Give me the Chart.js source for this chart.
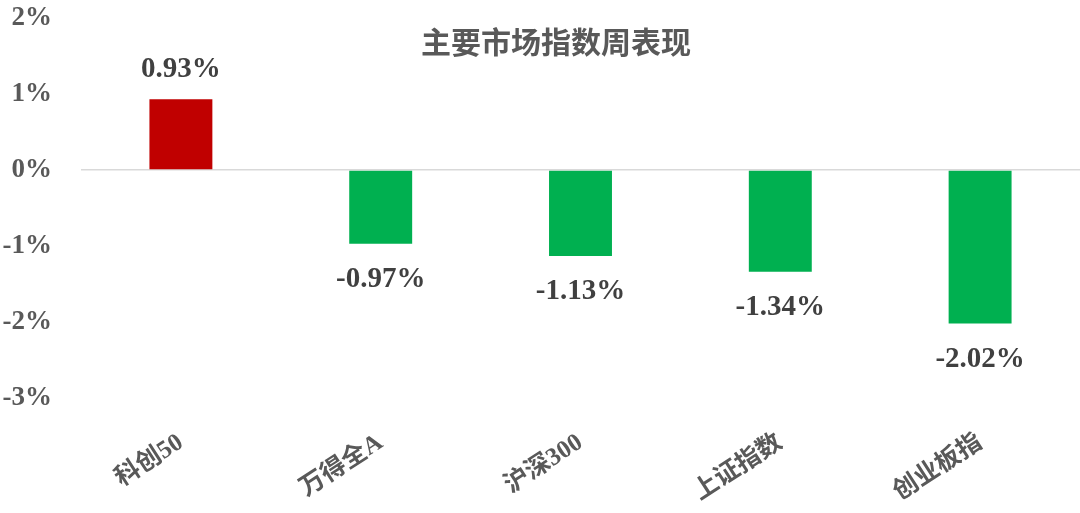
<!DOCTYPE html>
<html>
<head>
<meta charset="utf-8">
<script src="https://cdn.jsdelivr.net/npm/chart.js@4/dist/chart.umd.min.js"></script>
<style>
  html, body { margin: 0; padding: 0; background: #fff; }
  #box { width: 1080px; height: 513px; }
</style>
</head>
<body>
<div id="box"><canvas id="weekly"></canvas></div>
<script>
const categories = ['科创50', '万得全A', '沪深300', '上证指数', '创业板指']
const weeklyChange = [0.93, -0.97, -1.13, -1.34, -2.02]
const yTicks = [2, 1, 0, -1, -2, -3]

const FONT = "'Liberation Serif', 'Noto Sans CJK SC', serif"
const GREY = '#595959'

// value labels above / below each bar
const barLabels = {
  id: 'barLabels',
  afterDatasetsDraw(chart) {
    const ctx = chart.ctx
    const meta = chart.getDatasetMeta(0)
    ctx.save()
    ctx.font = 'bold 29px ' + FONT
    ctx.fillStyle = '#404040'
    ctx.textAlign = 'center'
    ctx.textBaseline = 'middle'
    meta.data.forEach((bar, i) => {
      const v = weeklyChange[i]
      const y = v >= 0 ? bar.y - 30 : bar.y + 36
      ctx.fillText(v.toFixed(2) + '%', bar.x, y)
    })
    ctx.restore()
  }
}

const titlePlugin = {
  id: 'titlePlugin',
  afterDraw(chart) {
    const ctx = chart.ctx
    ctx.save()
    ctx.font = 'bold 30px ' + FONT
    ctx.fillStyle = GREY
    ctx.textAlign = 'center'
    ctx.textBaseline = 'middle'
    ctx.fillText('主要市场指数周表现', 556, 45)
    ctx.restore()
  }
}

new Chart(document.querySelector('#weekly'), {
  type: 'bar',
  data: {
    labels: categories,
    datasets: [{
      data: weeklyChange,
      backgroundColor: weeklyChange.map(v => v >= 0 ? '#C00000' : '#00B050'),
      borderWidth: 0,
      barPercentage: 0.315,
      categoryPercentage: 1
    }]
  },
  options: {
    responsive: true,
    maintainAspectRatio: false,
    animation: false,
    layout: { padding: { top: 18, right: 0, left: 0, bottom: 0 } },
    plugins: { legend: { display: false }, tooltip: { enabled: false } },
    scales: {
      x: {
        grid: { display: false, drawTicks: false },
        border: { display: false },
        afterFit: s => { s.height = 115; s.paddingLeft = 0; s.paddingRight = 0 },
        ticks: {
          color: GREY,
          font: { family: FONT, size: 25, weight: 'bold' },
          minRotation: 33,
          maxRotation: 33,
          padding: 30
        }
      },
      y: {
        min: -3,
        max: 2,
        afterBuildTicks: axis => { axis.ticks = yTicks.map(v => ({ value: v })) },
        afterFit: s => { s.width = 81; s.paddingTop = 0; s.paddingBottom = 0 },
        grid: {
          drawTicks: false,
          lineWidth: 1.5,
          color: ctx => ctx.tick && ctx.tick.value === 0 ? '#D9D9D9' : 'rgba(0,0,0,0)'
        },
        border: { display: false },
        ticks: {
          color: GREY,
          font: { family: FONT, size: 27, weight: 'bold' },
          padding: 29,
          callback: v => v + '%'
        }
      }
    }
  },
  plugins: [barLabels, titlePlugin]
})
</script>
</body>
</html>
